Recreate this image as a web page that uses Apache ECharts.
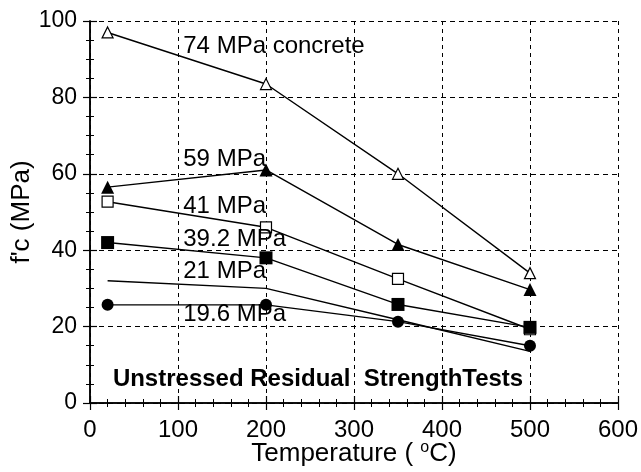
<!DOCTYPE html>
<html>
<head>
<meta charset="utf-8">
<script src="https://cdn.jsdelivr.net/npm/echarts@6/dist/echarts.min.js"></script>
<style>
html,body{margin:0;padding:0;background:#fff;}
#c{width:641px;height:472px;}
</style>
</head>
<body>
<div id="c"></div>
<script>
var temps = [20, 200, 350, 500];
var s74 = [97, 83.5, 60, 34];
var s59 = [56.5, 61, 41.5, 29.7];
var s41 = [52.7, 46, 32.5, 19.3];
var s392 = [42, 38, 25.8, 19.8];
var s21 = [32, 30, 21.8, 13.5];
var s196 = [25.7, 25.7, 21.3, 15];

var labelTexts = ['74 MPa concrete', '59 MPa', '41 MPa', '39.2 MPa', '21 MPa', '19.6 MPa'];
var labelX = [106, 106, 106, 106, 106, 106];
var labelY = [93.4, 63.7, 51.5, 42.8, 34.5, 23.2];
var noteText = 'Unstressed Residual  StrengthTests';
var noteX = 26, noteY = 6.3;

var xTicks = [0, 100, 200, 300, 400, 500, 600];
var yTicks = [0, 20, 40, 60, 80, 100];

var FONT = 'Liberation Sans, Arial, sans-serif';

function pts(ys){ return temps.map(function(t,i){ return [t, ys[i]]; }); }

function lineSeries(name, ys, symbol, filled, size, showSym){
  return {
    name: name, type: 'line', data: pts(ys),
    symbol: showSym ? symbol : 'none', symbolSize: size, showSymbol: showSym,
    lineStyle: {color: '#000', width: 1.4},
    itemStyle: {color: filled ? '#000' : '#fff', borderColor: '#000', borderWidth: filled ? 0 : 1.2, opacity: 1},
    emphasis: {disabled: true}, animation: false, z: 3
  };
}

var chart = echarts.init(document.getElementById('c'), null, {renderer: 'canvas'});
var axisLine = {show: true, lineStyle: {color: '#000', width: 1.5}};
var axisTick = {show: true, inside: true, length: 7, lineStyle: {color: '#000', width: 1.2}};
var option = {
  backgroundColor: '#fff',
  animation: false,
  grid: {left: 90, right: 23, top: 21, bottom: 68, containLabel: false},
  xAxis: [
    {
      type: 'value', min: xTicks[0], max: xTicks[xTicks.length-1], interval: 100, position: 'bottom',
      axisLine: axisLine, axisTick: axisTick,
      minorTick: {show: true, splitNumber: 5, length: 4, lineStyle: {color: '#000', width: 1}},
      axisLabel: {color: '#000', fontSize: 24, fontFamily: FONT, margin: 15},
      splitLine: {show: true, lineStyle: {color: '#000', width: 1, type: [4, 4]}},
      name: 'Temperature ( {s|o}C)', nameLocation: 'middle', nameGap: 37, nameMoveOverlap: false,
      nameTextStyle: {color: '#000', fontSize: 26, fontFamily: FONT,
        rich: {s: {fontSize: 16, fontFamily: FONT, color: '#000', verticalAlign: 'top', padding: [0,0,12,0]}}}
    },
    {
      type: 'value', min: 0, max: 600, interval: 100, position: 'top',
      axisLine: axisLine, axisTick: axisTick,
      minorTick: {show: true, splitNumber: 5, length: 4, lineStyle: {color: '#000', width: 1}},
      axisLabel: {show: false}, splitLine: {show: false}
    }
  ],
  yAxis: [
    {
      type: 'value', min: yTicks[0], max: yTicks[yTicks.length-1], interval: 20, position: 'left',
      axisLine: axisLine, axisTick: axisTick,
      minorTick: {show: true, splitNumber: 4, length: 4, lineStyle: {color: '#000', width: 1}},
      axisLabel: {color: '#000', fontSize: 23, fontFamily: FONT, margin: 13},
      splitLine: {show: true, lineStyle: {color: '#000', width: 1, type: [5, 4]}},
      name: "f'c (MPa)", nameLocation: 'middle', nameGap: 55, nameMoveOverlap: false,
      nameTextStyle: {color: '#000', fontSize: 26, fontFamily: FONT}
    },
    {
      type: 'value', min: 0, max: 100, interval: 20, position: 'right',
      axisLine: axisLine, axisTick: axisTick,
      minorTick: {show: true, splitNumber: 4, length: 4, lineStyle: {color: '#000', width: 1}},
      axisLabel: {show: false}, splitLine: {show: false}
    }
  ],
  series: [
    lineSeries('74 MPa', s74, 'triangle', false, 11, true),
    lineSeries('59 MPa', s59, 'triangle', true, 13, true),
    lineSeries('41 MPa', s41, 'rect', false, 11, true),
    lineSeries('39.2 MPa', s392, 'rect', true, 13, true),
    lineSeries('21 MPa', s21, 'none', true, 0, false),
    lineSeries('19.6 MPa', s196, 'circle', true, 12, true),
    {
      type: 'scatter', symbolSize: 0, silent: true, z: 5,
      itemStyle: {opacity: 1},
      data: labelTexts.map(function(t,i){ return {value: [labelX[i], labelY[i]], name: t}; }),
      label: {show: true, position: 'right', distance: 0, formatter: function(p){ return p.name; },
        color: '#000', opacity: 1, fontSize: 24, fontFamily: FONT, align: 'left', verticalAlign: 'middle'}
    },
    {
      type: 'scatter', symbolSize: 0, silent: true, z: 5,
      itemStyle: {opacity: 1},
      data: [{value: [noteX, noteY], name: noteText}],
      label: {show: true, position: 'right', distance: 0, formatter: function(p){ return p.name; },
        color: '#000', opacity: 1, fontSize: 24, fontWeight: 'bold', fontFamily: FONT, align: 'left', verticalAlign: 'middle'}
    }
  ]
};
chart.setOption(option);
</script>
</body>
</html>
